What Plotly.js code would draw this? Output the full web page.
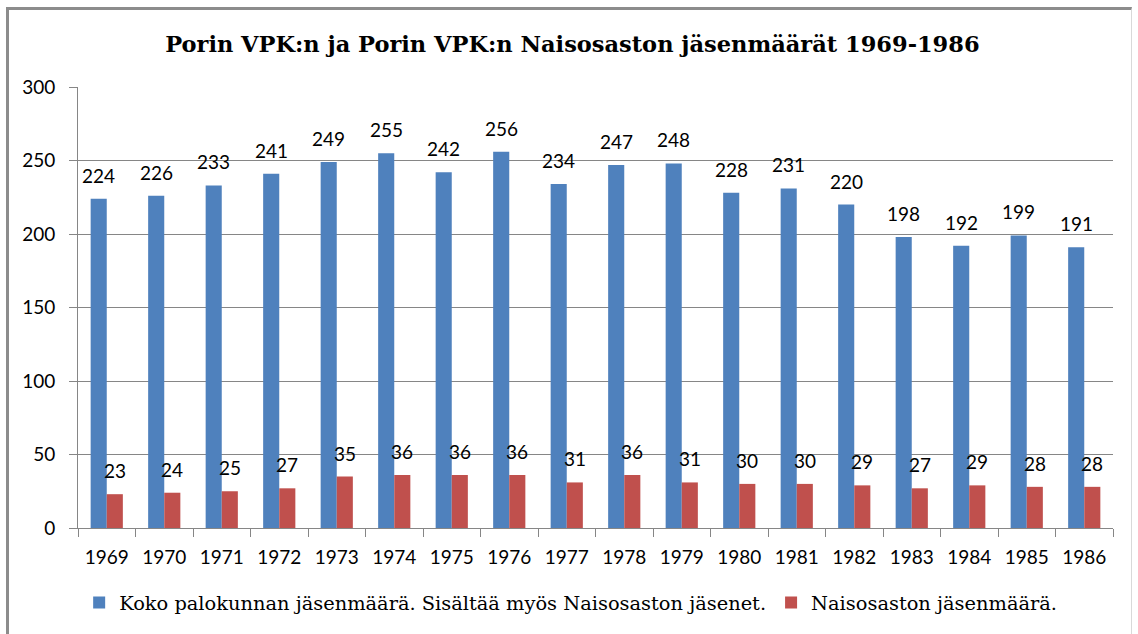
<!DOCTYPE html>
<html>
<head>
<meta charset="utf-8">
<script src="https://cdn.plot.ly/plotly-3.0.1.min.js"></script>
<style>
  html, body { margin: 0; padding: 0; background: #ffffff; }
  #wrap { position: relative; width: 1138px; height: 634px; overflow: hidden; }
  #frame { position: absolute; left: 6px; top: 7px; width: 1126px; height: 640px;
           border-left: 3px solid #8c8c8c; border-top: 3px solid #8c8c8c;
           border-right: 1px solid #d9d9d9; box-sizing: border-box; pointer-events: none; z-index: 5; }
  #chart { position: absolute; left: 0; top: 0; width: 1138px; height: 634px; }
</style>
</head>
<body>
<div id="wrap">
  <div id="chart"></div>
  <div id="frame"></div>
</div>
<script>
const years = ["1969","1970","1971","1972","1973","1974","1975","1976","1977","1978","1979","1980","1981","1982","1983","1984","1985","1986"];
const totalMembers = [224,226,233,241,249,255,242,256,234,247,248,228,231,220,198,192,199,191];
const womenMembers = [23,24,25,27,35,36,36,36,31,36,31,30,30,29,27,29,28,28];
const seriesNames = ["Koko palokunnan jäsenmäärä. Sisältää myös Naisosaston jäsenet.", "Naisosaston jäsenmäärä."];
const yTicks = [0,50,100,150,200,250,300];

const sansFont = "Lato";
const titleFont = "DejaVu Serif";
const legendFont = "DejaVu Serif";

const traces = [
  { type: "bar", name: seriesNames[0], x: years, y: totalMembers,
    marker: { color: "#4F81BD" }, hoverinfo: "x+y" },
  { type: "bar", name: seriesNames[1], x: years, y: womenMembers,
    marker: { color: "#C0504D" }, hoverinfo: "x+y" }
];

const annotations = [];
years.forEach((yr, i) => {
  annotations.push({ x: i, y: totalMembers[i], xref: "x", yref: "y", text: String(totalMembers[i]),
    showarrow: false, xshift: -8, yshift: 10, yanchor: "bottom", font: { family: sansFont, size: 19, color: "#000" } });
  annotations.push({ x: i, y: womenMembers[i], xref: "x", yref: "y", text: String(womenMembers[i]),
    showarrow: false, xshift: 8, yshift: 10, yanchor: "bottom", font: { family: sansFont, size: 19, color: "#000" } });
});

const layout = {
  width: 1138, height: 634,
  margin: { l: 78, r: 25, t: 87, b: 106 },
  paper_bgcolor: "#ffffff", plot_bgcolor: "#ffffff",
  barmode: "group", bargap: 0.44, bargroupgap: 0,
  title: { text: "<b>Porin VPK:n ja Porin VPK:n Naisosaston jäsenmäärät 1969-1986</b>",
    font: { family: titleFont, size: 22.5, color: "#000" },
    x: 0.503, xref: "container", xanchor: "center", y: 0.93, yref: "container", yanchor: "middle" },
  xaxis: { type: "category", range: [-0.5, years.length - 0.5], autorange: false,
    tickson: "boundaries", ticks: "outside", ticklen: 8, tickcolor: "#868686",
    showline: true, linecolor: "#868686", linewidth: 1, showgrid: false, ticklabelstandoff: 12,
    tickfont: { family: sansFont, size: 19, color: "#000" }, tickangle: 0, fixedrange: true },
  yaxis: { range: [0, 300], autorange: false, tickvals: yTicks, ticks: "outside", ticklen: 8, tickcolor: "#868686",
    showline: true, linecolor: "#868686", linewidth: 1, showgrid: true, gridcolor: "#868686", gridwidth: 1,
    zeroline: false, ticklabelstandoff: 10,
    tickfont: { family: sansFont, size: 19, color: "#000" }, fixedrange: true },
  legend: { orientation: "h", x: 0.476, xref: "paper", xanchor: "center", y: -0.17, yanchor: "middle",
    font: { family: legendFont, size: 19.4, color: "#000" }, traceorder: "normal", itemwidth: 30 },
  annotations: annotations,
  showlegend: true
};

Plotly.newPlot("chart", traces, layout, { displayModeBar: false, staticPlot: true });
</script>
</body>
</html>
